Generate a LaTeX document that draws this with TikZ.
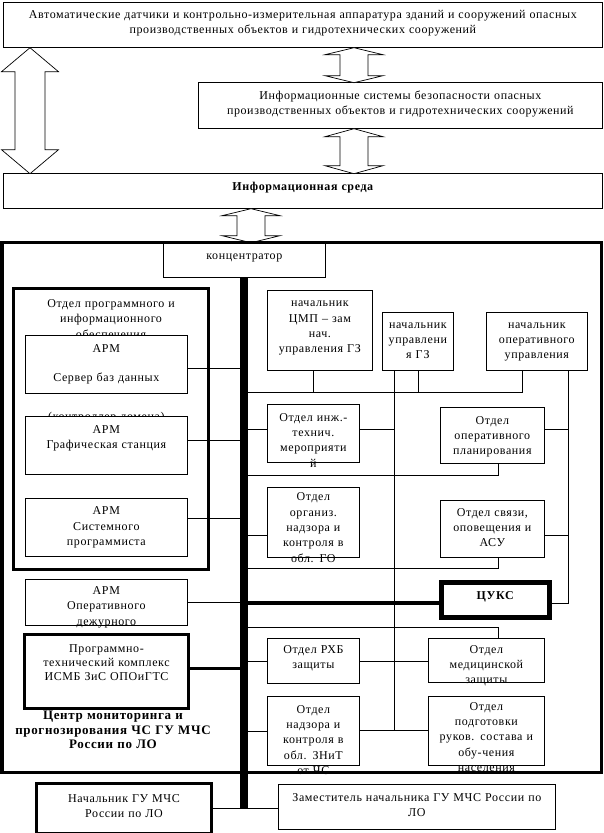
\documentclass[tikz,border=0pt]{standalone}
\usepackage{fontspec}
\setmainfont{Liberation Serif}[LetterSpace=5]
\usetikzlibrary{positioning}

\begin{document}
\begin{tikzpicture}[x=1pt, y=-1pt,
                    unit/.style n args={3}{draw, fill=white, line width=0.7pt, inner xsep=2pt, inner ysep=0pt, anchor=north west,
                                           text width=#1-4pt, text height=#3, text depth=#2-#3, align=center,
                                           font=\fontsize{12}{15.3}\selectfont},
                    heavy/.style={line width=3pt},
                    blockarrow/.style={draw, fill=white, line width=0.7pt},
                ]
                    \useasboundingbox (0,0) rectangle (604,833);

                    %Upper level
                    \node[unit={599}{45}{16}](sensors) at (3,2) {Автоматические датчики и контрольно-измерительная аппаратура зданий и сооружений опасных\\производственных объектов и гидротехнических сооружений};
                    \node[unit={404}{46}{17}](infosys) at (198,82) {Информационные системы безопасности опасных\\производственных объектов и гидротехнических сооружений};
                    \node[unit={599}{35}{17}, font=\fontsize{12}{15.3}\selectfont\bfseries](medium) at (3,173) {Информационная среда};

                    %Block arrows
                    \draw[blockarrow](sensors.south -| 30,0) -- ++(28.5,24) -- ++(-13.5,0) -- ++(0,78) -- ++(13.5,0) -- ++(-28.5,24)
                        -- ++(-28.5,-24) -- ++(13.5,0) -- ++(0,-78) -- ++(-13.5,0) -- cycle;
                    \draw[blockarrow](sensors.south -| 354,0) -- ++(29,7) -- ++(-15,0) -- ++(0,21) -- ++(15,0) -- ++(-29,7)
                        -- ++(-29,-7) -- ++(15,0) -- ++(0,-21) -- ++(-15,0) -- cycle;
                    \draw[blockarrow](infosys.south -| 354,0) -- ++(29,8) -- ++(-15,0) -- ++(0,29) -- ++(15,0) -- ++(-29,8)
                        -- ++(-29,-8) -- ++(15,0) -- ++(0,-29) -- ++(-15,0) -- cycle;
                    \draw[blockarrow](medium.south -| 251,0) -- ++(29,7) -- ++(-15,0) -- ++(0,20) -- ++(15,0) -- ++(-29,7)
                        -- ++(-29,-7) -- ++(15,0) -- ++(0,-20) -- ++(-15,0) -- cycle;

                    %Left column
                    \node[unit={195}{281}{19}, heavy](progdept) at (12,287) {Отдел программного и\\информационного\\обеспечения};
                    \node[unit={162}{58}{17}](dbserver) at (25,335) {АРМ\\[14pt]Сервер баз данных\\[24pt](контроллер домена)};
                    \node[unit={162}{58}{17}](graphics)[below=22pt of dbserver] {АРМ\\Графическая станция};
                    \node[unit={162}{58}{16}](sysprog)[below=24pt of graphics] {АРМ\\Системного\\программиста};
                    \node[unit={162}{46}{15}](duty)[below=22pt of sysprog] {АРМ\\Оперативного\\дежурного};
                    \node[unit={164}{74}{18}, heavy, font=\fontsize{12}{14}\selectfont](complex) at (23,633) {Программно-\\технический комплекс\\ИСМБ ЗиС ОПОиГТС};
                    \node[anchor=base, inner sep=0pt, text width=220pt, align=center, font=\fontsize{13}{14.5}\selectfont\bfseries](centre) at (113,719.5) {Центр мониторинга и\\прогнозирования ЧС ГУ МЧС\\России по ЛО};

                    %Right column
                    \node[unit={105}{80}{16.5}](cmp) at (267,290) {начальник\\ЦМП – зам\\нач.\\управления ГЗ};
                    \node[unit={71}{58}{16}](gzhead) at (382,312) {начальник\\управлени\\я ГЗ};
                    \node[unit={101}{58}{16}](ophead) at (486,312) {начальник\\оперативного\\управления};
                    \node[unit={92}{58}{17}](engdept) at (267,404) {Отдел инж.-\\технич.\\мероприяти\\й};
                    \node[unit={104}{56}{17}](planning) at (440,407) {Отдел\\оперативного\\планирования};
                    \node[unit={92}{70}{13.5}](gosuper) at (267,487) {Отдел\\организ.\\надзора и\\контроля в\\обл. ГО};
                    \node[unit={104}{57}{16}](comms) at (440,500) {Отдел связи,\\оповещения и\\АСУ};
                    \node[unit={108}{35}{17}, line width=4.5pt, font=\fontsize{12}{15.3}\selectfont\bfseries](tsuks) at (439,580) {ЦУКС};
                    \node[unit={92}{45}{15}](chem) at (267,638) {Отдел РХБ\\защиты};
                    \node[unit={116}{44}{15}](medic) at (428,638) {Отдел\\медицинской\\защиты};
                    \node[unit={92}{69}{17}](znit) at (267,696) {Отдел\\надзора и\\контроля в\\обл. ЗНиТ\\от ЧС};
                    \node[unit={116}{69}{14}](training) at (428,696) {Отдел\\подготовки\\руков. состава и\\обу-чения\\населения};

                    %Lower level
                    \node[unit={175}{50}{19}, heavy](chief) at (35,782) {Начальник ГУ МЧС\\России по ЛО};
                    \node[unit={277}{45}{17}](deputy) at (278,784) {Заместитель начальника ГУ МЧС России по\\ЛО};

                    %Frame and hub
                    \draw[line width=3.5pt] (2,242.5) rectangle (601.5,772.5);
                    \node[unit={162}{34}{16}](hub) at (163,243) {концентратор};
                    \coordinate (bus) at (244,277);
                    \coordinate (busend) at (244,808);
                    \coordinate (midline) at ([xshift=12pt]gzhead.south west);
                    \coordinate (rightline) at ([xshift=-19pt]ophead.south east);

                    %Lines
                    \begin{scope}[line width=0.7pt]
                    \draw (dbserver.east |- 0,368) -- (bus |- 0,368);
                    \draw (graphics.east |- 0,440) -- (bus |- 0,440);
                    \draw (sysprog.east |- 0,518) -- (bus |- 0,518);
                    \draw (duty.east |- 0,602) -- (bus |- 0,602);
                    \draw[line width=3pt] (complex.east |- 0,668) -- (bus |- 0,668);
                    \draw (chief.east |- 0,808) -- (bus |- 0,808);
                    \draw (bus |- 0,808) -- (deputy.west |- 0,808);

                    \draw (bus |- 0,392) -| ([xshift=-14.5pt]ophead.south);
                    \draw ([xshift=-6.5pt]cmp.south) -- ++(0,22);
                    \draw (gzhead.south) -- ++(0,22);
                    \draw (midline) -- (midline |- 0,730);
                    \draw (rightline) |- (tsuks.east |- 0,603);

                    \draw (bus |- 0,429) -- (engdept.west |- 0,429);
                    \draw (engdept.east |- 0,429) -- (midline |- 0,429);
                    \draw (planning.east |- 0,429) -- (rightline |- 0,429);
                    \draw ([xshift=6pt]planning.south) |- (bus |- 0,475);
                    \draw (bus |- 0,535) -- (gosuper.west |- 0,535);
                    \draw (comms.east |- 0,535) -- (rightline |- 0,535);
                    \draw ([xshift=6pt]comms.south) |- (bus |- 0,568);
                    \draw[line width=3.5pt] (bus |- 0,603) -- (tsuks.west |- 0,603);
                    \draw (bus |- 0,627) -| ([xshift=12pt]medic.north);
                    \draw (bus |- 0,661) -- (chem.west |- 0,661);
                    \draw (chem.east |- 0,661) -- (medic.west |- 0,661);
                    \draw (bus |- 0,731) -- (znit.west |- 0,731);
                    \draw (znit.east |- 0,730) -- (training.west |- 0,730);
                    \end{scope}

                    %Bus
                    \draw[line width=8pt] (bus) -- (busend);
                \end{tikzpicture}
\end{document}
